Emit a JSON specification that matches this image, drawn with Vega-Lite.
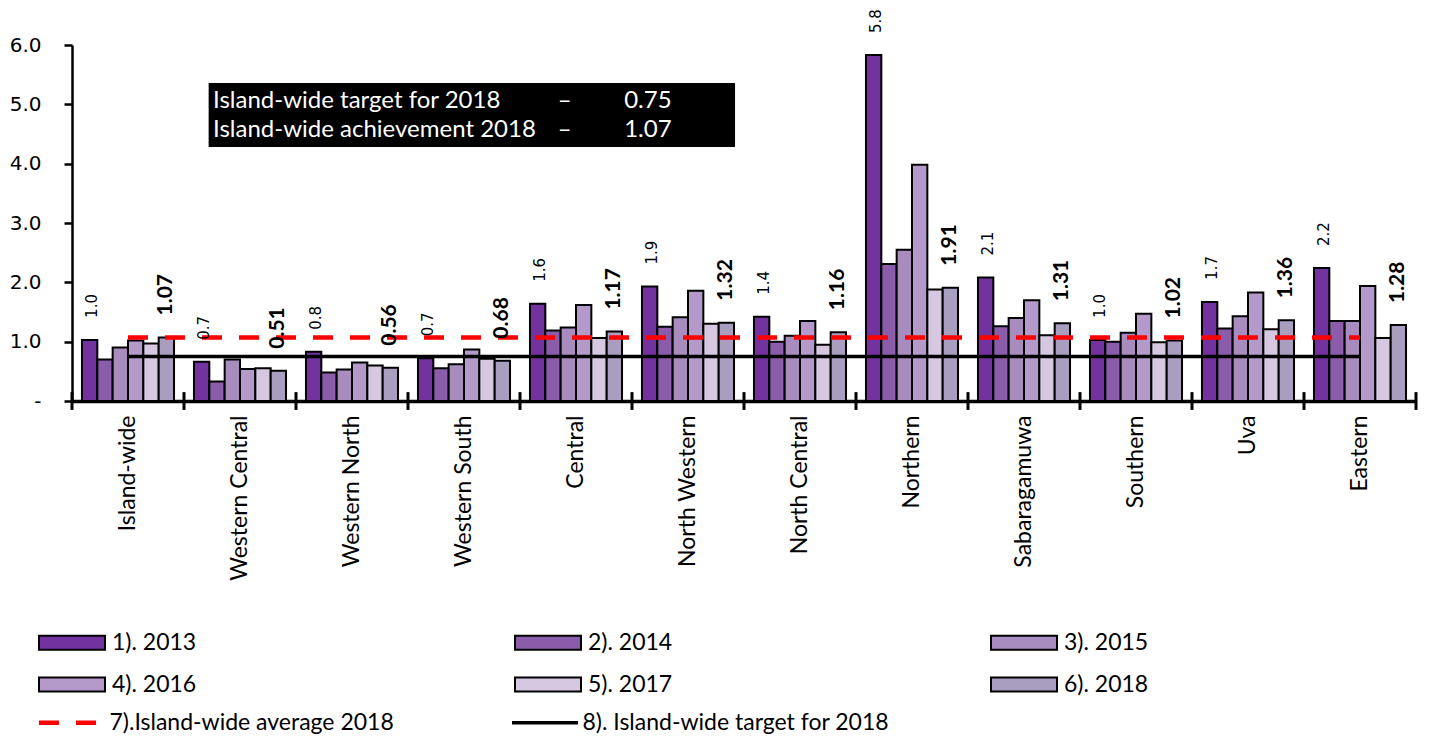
{
  "$schema": "https://vega.github.io/schema/vega-lite/v6.json",
  "width": 1344,
  "height": 356,
  "autosize": {"type": "none"},
  "padding": {"left": 72, "top": 45, "right": 13, "bottom": 337},
  "background": "white",
  "config": {"view": {"stroke": null}},
  "datasets": {
    "bars": [
      {"Region": "Island-wide", "Series": "1). 2013", "value": 1.03},
      {"Region": "Island-wide", "Series": "2). 2014", "value": 0.70},
      {"Region": "Island-wide", "Series": "3). 2015", "value": 0.90},
      {"Region": "Island-wide", "Series": "4). 2016", "value": 1.02},
      {"Region": "Island-wide", "Series": "5). 2017", "value": 0.97},
      {"Region": "Island-wide", "Series": "6). 2018", "value": 1.07},
      {"Region": "Western Central", "Series": "1). 2013", "value": 0.66},
      {"Region": "Western Central", "Series": "2). 2014", "value": 0.33},
      {"Region": "Western Central", "Series": "3). 2015", "value": 0.70},
      {"Region": "Western Central", "Series": "4). 2016", "value": 0.54},
      {"Region": "Western Central", "Series": "5). 2017", "value": 0.55},
      {"Region": "Western Central", "Series": "6). 2018", "value": 0.51},
      {"Region": "Western  North", "Series": "1). 2013", "value": 0.83},
      {"Region": "Western  North", "Series": "2). 2014", "value": 0.48},
      {"Region": "Western  North", "Series": "3). 2015", "value": 0.53},
      {"Region": "Western  North", "Series": "4). 2016", "value": 0.65},
      {"Region": "Western  North", "Series": "5). 2017", "value": 0.60},
      {"Region": "Western  North", "Series": "6). 2018", "value": 0.56},
      {"Region": "Western  South", "Series": "1). 2013", "value": 0.72},
      {"Region": "Western  South", "Series": "2). 2014", "value": 0.55},
      {"Region": "Western  South", "Series": "3). 2015", "value": 0.62},
      {"Region": "Western  South", "Series": "4). 2016", "value": 0.87},
      {"Region": "Western  South", "Series": "5). 2017", "value": 0.71},
      {"Region": "Western  South", "Series": "6). 2018", "value": 0.68},
      {"Region": "Central", "Series": "1). 2013", "value": 1.64},
      {"Region": "Central", "Series": "2). 2014", "value": 1.19},
      {"Region": "Central", "Series": "3). 2015", "value": 1.24},
      {"Region": "Central", "Series": "4). 2016", "value": 1.62},
      {"Region": "Central", "Series": "5). 2017", "value": 1.06},
      {"Region": "Central", "Series": "6). 2018", "value": 1.17},
      {"Region": "North Western", "Series": "1). 2013", "value": 1.93},
      {"Region": "North Western", "Series": "2). 2014", "value": 1.25},
      {"Region": "North Western", "Series": "3). 2015", "value": 1.41},
      {"Region": "North Western", "Series": "4). 2016", "value": 1.86},
      {"Region": "North Western", "Series": "5). 2017", "value": 1.30},
      {"Region": "North Western", "Series": "6). 2018", "value": 1.32},
      {"Region": "North Central", "Series": "1). 2013", "value": 1.42},
      {"Region": "North Central", "Series": "2). 2014", "value": 1.00},
      {"Region": "North Central", "Series": "3). 2015", "value": 1.10},
      {"Region": "North Central", "Series": "4). 2016", "value": 1.35},
      {"Region": "North Central", "Series": "5). 2017", "value": 0.95},
      {"Region": "North Central", "Series": "6). 2018", "value": 1.16},
      {"Region": "Northern", "Series": "1). 2013", "value": 5.83},
      {"Region": "Northern", "Series": "2). 2014", "value": 2.31},
      {"Region": "Northern", "Series": "3). 2015", "value": 2.55},
      {"Region": "Northern", "Series": "4). 2016", "value": 3.98},
      {"Region": "Northern", "Series": "5). 2017", "value": 1.88},
      {"Region": "Northern", "Series": "6). 2018", "value": 1.91},
      {"Region": "Sabaragamuwa", "Series": "1). 2013", "value": 2.08},
      {"Region": "Sabaragamuwa", "Series": "2). 2014", "value": 1.26},
      {"Region": "Sabaragamuwa", "Series": "3). 2015", "value": 1.40},
      {"Region": "Sabaragamuwa", "Series": "4). 2016", "value": 1.70},
      {"Region": "Sabaragamuwa", "Series": "5). 2017", "value": 1.11},
      {"Region": "Sabaragamuwa", "Series": "6). 2018", "value": 1.31},
      {"Region": "Southern", "Series": "1). 2013", "value": 1.03},
      {"Region": "Southern", "Series": "2). 2014", "value": 1.00},
      {"Region": "Southern", "Series": "3). 2015", "value": 1.15},
      {"Region": "Southern", "Series": "4). 2016", "value": 1.47},
      {"Region": "Southern", "Series": "5). 2017", "value": 0.99},
      {"Region": "Southern", "Series": "6). 2018", "value": 1.02},
      {"Region": "Uva", "Series": "1). 2013", "value": 1.67},
      {"Region": "Uva", "Series": "2). 2014", "value": 1.22},
      {"Region": "Uva", "Series": "3). 2015", "value": 1.43},
      {"Region": "Uva", "Series": "4). 2016", "value": 1.83},
      {"Region": "Uva", "Series": "5). 2017", "value": 1.21},
      {"Region": "Uva", "Series": "6). 2018", "value": 1.36},
      {"Region": "Eastern", "Series": "1). 2013", "value": 2.24},
      {"Region": "Eastern", "Series": "2). 2014", "value": 1.35},
      {"Region": "Eastern", "Series": "3). 2015", "value": 1.35},
      {"Region": "Eastern", "Series": "4). 2016", "value": 1.94},
      {"Region": "Eastern", "Series": "5). 2017", "value": 1.06},
      {"Region": "Eastern", "Series": "6). 2018", "value": 1.28}
    ],
    "lines": [
      {"Region": "Island-wide", "Series": "7).Island-wide average 2018", "value": 1.07},
      {"Region": "Western Central", "Series": "7).Island-wide average 2018", "value": 1.07},
      {"Region": "Western  North", "Series": "7).Island-wide average 2018", "value": 1.07},
      {"Region": "Western  South", "Series": "7).Island-wide average 2018", "value": 1.07},
      {"Region": "Central", "Series": "7).Island-wide average 2018", "value": 1.07},
      {"Region": "North Western", "Series": "7).Island-wide average 2018", "value": 1.07},
      {"Region": "North Central", "Series": "7).Island-wide average 2018", "value": 1.07},
      {"Region": "Northern", "Series": "7).Island-wide average 2018", "value": 1.07},
      {"Region": "Sabaragamuwa", "Series": "7).Island-wide average 2018", "value": 1.07},
      {"Region": "Southern", "Series": "7).Island-wide average 2018", "value": 1.07},
      {"Region": "Uva", "Series": "7).Island-wide average 2018", "value": 1.07},
      {"Region": "Eastern", "Series": "7).Island-wide average 2018", "value": 1.07},
      {"Region": "Island-wide", "Series": "8). Island-wide target for 2018", "value": 0.75},
      {"Region": "Western Central", "Series": "8). Island-wide target for 2018", "value": 0.75},
      {"Region": "Western  North", "Series": "8). Island-wide target for 2018", "value": 0.75},
      {"Region": "Western  South", "Series": "8). Island-wide target for 2018", "value": 0.75},
      {"Region": "Central", "Series": "8). Island-wide target for 2018", "value": 0.75},
      {"Region": "North Western", "Series": "8). Island-wide target for 2018", "value": 0.75},
      {"Region": "North Central", "Series": "8). Island-wide target for 2018", "value": 0.75},
      {"Region": "Northern", "Series": "8). Island-wide target for 2018", "value": 0.75},
      {"Region": "Sabaragamuwa", "Series": "8). Island-wide target for 2018", "value": 0.75},
      {"Region": "Southern", "Series": "8). Island-wide target for 2018", "value": 0.75},
      {"Region": "Uva", "Series": "8). Island-wide target for 2018", "value": 0.75},
      {"Region": "Eastern", "Series": "8). Island-wide target for 2018", "value": 0.75}
    ],
    "box": [
      {"label": "Island-wide target for 2018", "dash": "–", "value": "0.75"},
      {"label": "Island-wide achievement 2018", "dash": "–", "value": "1.07"}
    ]
  },
  "layer": [
    {
      "data": {"name": "bars"},
      "mark": {"type": "bar", "stroke": "black", "strokeWidth": 2},
      "encoding": {
        "x": {
          "field": "Region", "type": "nominal",
          "scale": {"domain": ["Island-wide", "Western Central", "Western  North", "Western  South", "Central", "North Western", "North Central", "Northern", "Sabaragamuwa", "Southern", "Uva", "Eastern"], "paddingInner": 0, "paddingOuter": 0},
          "axis": {"title": null, "labelAngle": 270, "labelFont": "Lato", "labelFontSize": 23, "labelColor": "black", "labelPadding": 14, "ticks": false, "domainColor": "black", "domainWidth": 3.5, "labelLimit": 300}
        },
        "xOffset": {"field": "Series", "type": "nominal", "scale": {"paddingInner": 0, "paddingOuter": 0.65}},
        "y": {
          "field": "value", "type": "quantitative",
          "scale": {"domain": [0, 6], "nice": false},
          "axis": {"title": null, "values": [0, 1, 2, 3, 4, 5, 6], "labelExpr": "datum.value == 0 ? '-' : format(datum.value, '.1f')", "labelFont": "DejaVu Sans", "labelFontSize": 20, "labelColor": "black", "tickSize": 8, "tickWidth": 2.5, "tickColor": "black", "domainColor": "black", "domainWidth": 2.5, "grid": false, "labelPadding": 23}
        },
        "fill": {
          "field": "Series", "type": "nominal",
          "scale": {"domain": ["1). 2013", "2). 2014", "3). 2015", "4). 2016", "5). 2017", "6). 2018"], "range": ["#7232A0", "#8A5CAA", "#A88CC0", "#B49ACA", "#D7C8E2", "#AA9EC0"]},
          "legend": {"title": null, "orient": "none", "legendX": -11.5, "legendY": 586, "direction": "horizontal", "columns": 3, "columnPadding": 314, "rowPadding": 18, "symbolType": "M-4.4,-0.93H4.4V0.93H-4.4Z", "symbolSize": 225, "symbolStrokeColor": "black", "symbolStrokeWidth": 2, "symbolOpacity": 1, "labelOffset": 28.5, "labelFont": "Lato", "labelFontSize": 23, "labelColor": "black", "labelLimit": 400}
        }
      }
    },
    {
      "data": {"name": "lines"},
      "mark": {"type": "line"},
      "encoding": {
        "x": {"field": "Region", "type": "nominal"},
        "y": {"field": "value", "type": "quantitative"},
        "stroke": {
          "field": "Series", "type": "nominal",
          "scale": {"domain": ["7).Island-wide average 2018", "8). Island-wide target for 2018"], "range": ["#FF0000", "#000000"]},
          "legend": {"title": null, "orient": "none", "legendX": -11.5, "legendY": 666, "direction": "horizontal", "columns": 2, "columnPadding": 110, "symbolType": "M-4.4,0H4.4", "symbolSize": 225, "symbolStrokeWidth": 4, "labelOffset": 26, "labelFont": "Lato", "labelFontSize": 23, "labelColor": "black", "labelLimit": 400}
        },
        "strokeDash": {
          "field": "Series", "type": "nominal",
          "scale": {"domain": ["7).Island-wide average 2018", "8). Island-wide target for 2018"], "range": [[20, 17], [1, 0]]}
        },
        "strokeWidth": {
          "field": "Series", "type": "nominal",
          "scale": {"domain": ["7).Island-wide average 2018", "8). Island-wide target for 2018"], "range": [4.5, 3.5]},
          "legend": null
        }
      }
    },
    {
      "data": {"name": "bars"},
      "transform": [{"filter": "datum.Series == '1). 2013'"}],
      "mark": {"type": "text", "angle": 270, "align": "left", "baseline": "middle", "dx": 22, "dy": 2, "font": "DejaVu Sans", "fontSize": 15, "color": "black"},
      "encoding": {
        "x": {"field": "Region", "type": "nominal"},
        "xOffset": {"field": "Series", "type": "nominal"},
        "y": {"field": "value", "type": "quantitative"},
        "text": {"field": "value", "type": "quantitative", "format": ".1f"}
      }
    },
    {
      "data": {"name": "bars"},
      "transform": [{"filter": "datum.Series == '6). 2018'"}],
      "mark": {"type": "text", "angle": 270, "align": "left", "baseline": "middle", "dx": 22, "font": "Lato", "fontWeight": "bold", "fontSize": 21, "color": "black"},
      "encoding": {
        "x": {"field": "Region", "type": "nominal"},
        "xOffset": {"field": "Series", "type": "nominal"},
        "y": {"field": "value", "type": "quantitative"},
        "text": {"field": "value", "type": "quantitative", "format": ".2f"}
      }
    },
    {
      "data": {"name": "bars"},
      "transform": [{"filter": "datum.Series == '1). 2013'"}],
      "mark": {"type": "rule", "color": "black", "strokeWidth": 3},
      "encoding": {
        "x": {"field": "Region", "type": "nominal", "bandPosition": 0},
        "y": {"datum": -0.15},
        "y2": {"datum": 0.15}
      }
    },
    {
      "data": {"values": [{}]},
      "mark": {"type": "rule", "color": "black", "strokeWidth": 3},
      "encoding": {
        "x": {"datum": "Eastern", "bandPosition": 1},
        "y": {"datum": -0.15},
        "y2": {"datum": 0.15}
      }
    },
    {
      "data": {"values": [{}]},
      "mark": {"type": "rect", "color": "black"},
      "encoding": {
        "x": {"datum": "Western Central", "bandPosition": 0.22},
        "x2": {"datum": "North Western", "bandPosition": 0.92},
        "y": {"datum": 5.36},
        "y2": {"datum": 4.28}
      }
    },
    {
      "data": {"name": "box"},
      "transform": [{"filter": "datum.value == '0.75'"}],
      "layer": [
        {"mark": {"type": "text", "align": "left", "baseline": "middle", "font": "Lato", "fontSize": 24, "color": "white"},
         "encoding": {"x": {"datum": "Western Central", "bandPosition": 0.26}, "y": {"datum": 5.06}, "text": {"field": "label"}}},
        {"mark": {"type": "text", "align": "center", "baseline": "middle", "font": "Lato", "fontSize": 24, "color": "white"},
         "encoding": {"x": {"datum": "Central", "bandPosition": 0.4}, "y": {"datum": 5.06}, "text": {"field": "dash"}}},
        {"mark": {"type": "text", "align": "left", "baseline": "middle", "font": "Lato", "fontSize": 24, "color": "white"},
         "encoding": {"x": {"datum": "Central", "bandPosition": 0.93}, "y": {"datum": 5.06}, "text": {"field": "value"}}}
      ]
    },
    {
      "data": {"name": "box"},
      "transform": [{"filter": "datum.value == '1.07'"}],
      "layer": [
        {"mark": {"type": "text", "align": "left", "baseline": "middle", "font": "Lato", "fontSize": 24, "color": "white"},
         "encoding": {"x": {"datum": "Western Central", "bandPosition": 0.26}, "y": {"datum": 4.57}, "text": {"field": "label"}}},
        {"mark": {"type": "text", "align": "center", "baseline": "middle", "font": "Lato", "fontSize": 24, "color": "white"},
         "encoding": {"x": {"datum": "Central", "bandPosition": 0.4}, "y": {"datum": 4.57}, "text": {"field": "dash"}}},
        {"mark": {"type": "text", "align": "left", "baseline": "middle", "font": "Lato", "fontSize": 24, "color": "white"},
         "encoding": {"x": {"datum": "Central", "bandPosition": 0.93}, "y": {"datum": 4.57}, "text": {"field": "value"}}}
      ]
    }
  ]
}
